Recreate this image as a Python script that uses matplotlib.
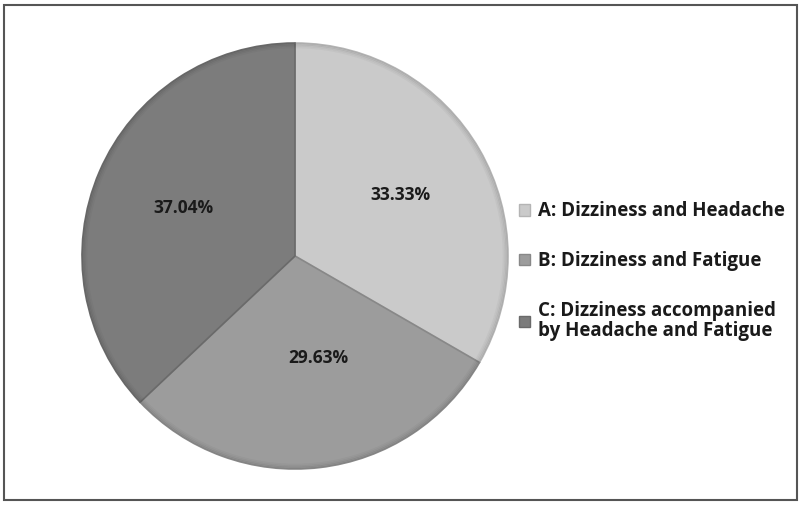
import matplotlib
matplotlib.use('Agg')
import matplotlib.pyplot as plt
import matplotlib.patches as mpatches
import numpy as np

labels = ['A: Dizziness and Headache',
          'B: Dizziness and Fatigue',
          'C: Dizziness accompanied\nby Headache and Fatigue']
counts = [9, 8, 10]
pct_text = ['33.33%', '29.63%', '37.04%']
colors = ['#cacaca', '#9c9c9c', '#7c7c7c']
edges = ['#b4b4b4', '#888888', '#6a6a6a']

plt.rcParams['font.family'] = ['Open Sans', 'DejaVu Sans']

fig = plt.figure(figsize=(8, 5.05), dpi=100)

# pie axes: center ~ (295,256) px, radius ~213 px
r = 213
ax = fig.add_axes([(295 - r) / 800, (505 - 256 - r) / 505, 2 * r / 800, 2 * r / 505])
wedges, _ = ax.pie(counts, colors=colors, startangle=90, counterclock=False,
                   wedgeprops=dict(linewidth=1.2))
for w, ec in zip(wedges, edges):
    w.set_edgecolor(ec)
# soft shading round the rim
for k, a in [(0.994, 0.07), (0.988, 0.05), (0.980, 0.03)]:
    ax.add_patch(mpatches.Circle((0, 0), k, fill=False, edgecolor='black',
                                 linewidth=1.5, alpha=a))
ax.set_xlim(-1, 1)
ax.set_ylim(-1, 1)
ax.set_aspect('equal')

# percent labels
total = sum(counts)
ang = 90
dist = [0.57, 0.49, 0.57]
shift = [0, 6, 0]
for i, c in enumerate(counts):
    span = 360 * c / total
    mid = np.deg2rad(ang - span / 2 + shift[i])
    ax.text(dist[i] * np.cos(mid), dist[i] * np.sin(mid), pct_text[i],
            ha='center', va='center', fontsize=12.5, fontweight='bold', color='#1a1a1a')
    ang -= span

handles = [mpatches.Patch(facecolor=c, edgecolor=e) for c, e in zip(colors, edges)]
leg = fig.legend(handles, labels, loc='upper left', bbox_to_anchor=(0.649, 0.601),
                 frameon=False, fontsize=13.5, handlelength=0.55, handleheight=0.55,
                 handletextpad=0.45, labelspacing=1.58, borderaxespad=0, borderpad=0)
for t in leg.get_texts():
    t.set_fontweight('bold')
    t.set_color('#1a1a1a')
    t.set_linespacing(1.0)

# chart border
fig.patches.append(mpatches.Rectangle((4 / 800, 5 / 505), 793 / 800, 495 / 505,
                                      transform=fig.transFigure, fill=False,
                                      edgecolor='#555555', linewidth=1.5))

plt.savefig('out.png', dpi=100)
